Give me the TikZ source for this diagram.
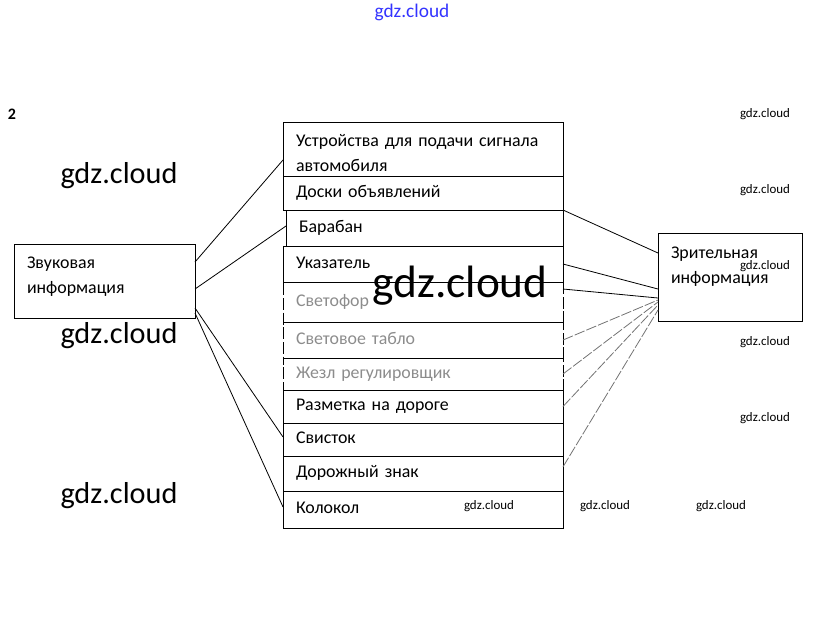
\documentclass[tikz,border=0pt]{standalone}
\usepackage{fontspec}
\setmainfont{Carlito}
\usetikzlibrary{positioning}

\begin{document}
\begin{tikzpicture}[x=0.75pt, y=-0.75pt,
box/.style={draw, line width=0.6pt, rectangle, align=left, inner xsep=9.75pt, inner ysep=0pt,
  outer sep=0pt, text width=190.5pt, font=\fontsize{13.4}{18.75}\selectfont},
item/.style={box, text height=9pt, text depth=2.7pt, anchor=north west},
under/.style={below=0pt of #1, anchor=north west},
dim/.style={text=black!45, dash pattern=on 9pt off 2pt},
link/.style={line width=0.6pt},
faint/.style={line width=0.6pt, draw=black!55, dash pattern=on 8pt off 1.5pt},
wm/.style={font=\fontsize{9.7}{11}\selectfont},
big/.style={font=\fontsize{22.7}{26}\selectfont}]

\useasboundingbox (0,0) rectangle (823,633);

\node (top) [text=blue!80, font=\fontsize{14.5}{16}\selectfont] at (412,12) {gdz.cloud};
\node (num) [font=\bfseries\fontsize{12}{14}\selectfont] at (12,114) {2};

\node (d1) [item, text depth=13.5pt, minimum height=40.5pt] at (283,122) {Устройства для подачи сигнала\\автомобиля};
\node (d2) [item, minimum height=25.5pt, under=d1.south west] {Доски объявлений};
\node (d3) [item, minimum height=27pt, text width=188.25pt, under=d2.south west, xshift=2.25pt] {Барабан};
\node (d4) [item, minimum height=27pt, under=d3.south west, xshift=-2.25pt] {Указатель};
\node (d5) [item, dim, minimum height=30pt, under=d4.south west] {Светофор};
\node (d6) [item, dim, minimum height=27pt, under=d5.south west] {Световое табло};
\node (d7) [item, dim, minimum height=24pt, under=d6.south west] {Жезл регулировщик};
\node (d8) [item, minimum height=24.75pt, under=d7.south west] {Разметка на дороге};
\node (d9) [item, minimum height=24.75pt, under=d8.south west] {Свисток};
\node (d10) [item, minimum height=26.25pt, under=d9.south west] {Дорожный знак};
\node (d11) [item, minimum height=27.75pt, under=d10.south west] {Колокол};

\node (snd) [box, text width=116.25pt, text depth=28pt, minimum height=55.5pt, anchor=north west] at (14,244) {Звуковая\\информация};
\node (vis) [box, text width=88.5pt, text depth=37pt, minimum height=66pt, anchor=north west] at (658,233) {Зрительная\\информация};

\draw[link] ([yshift=14.25pt]snd.east) -- ([yshift=-8.25pt]d1.west);
\draw[link] ([yshift=-6pt]snd.east) -- ([yshift=1.5pt]d3.west);
\draw[link] ([yshift=-20.25pt]snd.east) -- ([yshift=1.9pt]d9.west);
\draw[link] ([yshift=-24pt]snd.east) -- ([yshift=1.9pt]d11.west);

\draw[link] (d2.south east) -- ([yshift=18pt]vis.west);
\draw[link] (d4.east) -- ([yshift=-9pt]vis.west);
\draw[link] ([yshift=9.75pt]d5.east) -- ([yshift=-15.75pt]vis.west);
\foreach \s/\t in {d6/17.25, d7/18.75, d8/21} {
\draw[faint] (\s.east) -- ([yshift=-\t pt]vis.west);
};
\draw[faint] ([yshift=5pt]d10.east) -- ([yshift=-24.75pt]vis.west);

\foreach \y [count=\i] in {114, 190, 266, 342, 418} {
\node (w\i) [wm] at (765,\y) {gdz.cloud};
};
\foreach \x [count=\i from 6] in {489, 605, 721} {
\node (w\i) [wm] at (\x,506) {gdz.cloud};
};
\foreach \y [count=\i] in {176, 336, 496} {
\node (g\i) [big] at (119,\y) {gdz.cloud};
};
\node (mid) [font=\fontsize{34}{38}\selectfont] at (460,286) {gdz.cloud};

\end{tikzpicture}
\end{document}
